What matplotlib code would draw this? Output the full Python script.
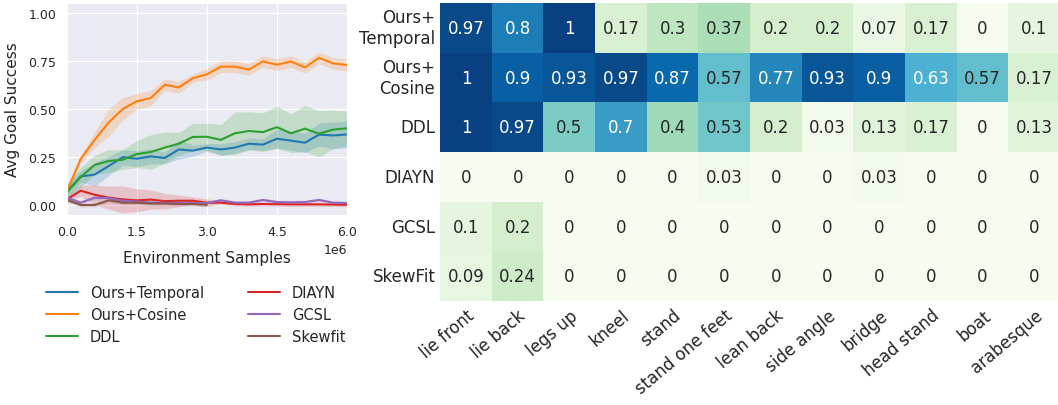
import numpy as np
import matplotlib
matplotlib.use("Agg")
import matplotlib.pyplot as plt
import seaborn as sns

# learning curves (x in env samples, every 0.3e6)
steps = np.arange(21) * 0.3e6
ours_temporal = [0.07, 0.15, 0.16, 0.204, 0.25, 0.242, 0.254, 0.246, 0.29, 0.284, 0.30,
                 0.29, 0.30, 0.32, 0.315, 0.346, 0.336, 0.325, 0.367, 0.363, 0.368]
ours_temporal_sd = [0.04, 0.03, 0.06, 0.05, 0.04, 0.04, 0.04, 0.03, 0.05, 0.03, 0.02,
                    0.03, 0.03, 0.03, 0.03, 0.05, 0.05, 0.05, 0.06, 0.07, 0.07]
ours_cosine = [0.07, 0.24, 0.34, 0.43, 0.50, 0.54, 0.557, 0.626, 0.612, 0.66, 0.68,
               0.72, 0.72, 0.705, 0.747, 0.73, 0.747, 0.716, 0.766, 0.737, 0.728]
ours_cosine_sd = [0.02, 0.02, 0.04, 0.07, 0.06, 0.04, 0.04, 0.03, 0.03, 0.02, 0.03,
                  0.03, 0.03, 0.03, 0.03, 0.03, 0.03, 0.03, 0.03, 0.03, 0.03]
ddl = [0.066, 0.147, 0.21, 0.23, 0.237, 0.266, 0.277, 0.30, 0.32, 0.355, 0.356,
       0.34, 0.374, 0.386, 0.38, 0.406, 0.374, 0.398, 0.372, 0.393, 0.40]
ddl_sd = [0.04, 0.05, 0.05, 0.06, 0.05, 0.07, 0.09, 0.08, 0.06, 0.07, 0.07,
          0.08, 0.11, 0.10, 0.10, 0.11, 0.10, 0.12, 0.12, 0.10, 0.09]
diayn = [0.03, 0.076, 0.055, 0.04, 0.031, 0.026, 0.03, 0.022, 0.024, 0.024, 0.014,
         0.014, 0.007, 0.005, 0.007, 0.006, 0.005, 0.005, 0.005, 0.004, 0.003]
diayn_sd = [0.01, 0.03, 0.05, 0.06, 0.07, 0.06, 0.05, 0.04, 0.03, 0.02, 0.02,
            0.01, 0.01, 0.01, 0.01, 0.01, 0.01, 0.01, 0.01, 0.01, 0.01]
gcsl = [0.04, 0.014, 0.04, 0.038, 0.024, 0.02, 0.014, 0.013, 0.012, 0.012, 0.012,
        0.026, 0.014, 0.014, 0.028, 0.017, 0.016, 0.017, 0.028, 0.014, 0.012]
gcsl_sd = [0.01] * 21
skewfit = [0.028, 0.002, 0.002, 0.026, 0.014, 0.014, 0.01, 0.01, 0.007, 0.007, 0.003]
skewfit_sd = [0.01] * 11

curves = [("Ours+Temporal", ours_temporal, ours_temporal_sd),
          ("Ours+Cosine", ours_cosine, ours_cosine_sd),
          ("DDL", ddl, ddl_sd),
          ("DIAYN", diayn, diayn_sd),
          ("GCSL", gcsl, gcsl_sd),
          ("Skewfit", skewfit, skewfit_sd)]

# heatmap
methods = ["Ours+\nTemporal", "Ours+\nCosine", "DDL", "DIAYN", "GCSL", "SkewFit"]
poses = ["lie front", "lie back", "legs up", "kneel", "stand", "stand one feet",
         "lean back", "side angle", "bridge", "head stand", "boat", "arabesque"]
success = [
    [0.97, 0.8, 1, 0.17, 0.3, 0.37, 0.2, 0.2, 0.07, 0.17, 0, 0.1],
    [1, 0.9, 0.93, 0.97, 0.87, 0.57, 0.77, 0.93, 0.9, 0.63, 0.57, 0.17],
    [1, 0.97, 0.5, 0.7, 0.4, 0.53, 0.2, 0.03, 0.13, 0.17, 0, 0.13],
    [0, 0, 0, 0, 0, 0.03, 0, 0, 0.03, 0, 0, 0],
    [0.1, 0.2, 0, 0, 0, 0, 0, 0, 0, 0, 0, 0],
    [0.09, 0.24, 0, 0, 0, 0, 0, 0, 0, 0, 0, 0],
]

sns.set_style("darkgrid")
plt.rcParams['font.family'] = ['DejaVu Sans']
txt = "#262626"

fig = plt.figure(figsize=(10.58, 4.06), dpi=100)

ax = fig.add_axes([0.063, 0.468, 0.265, 0.522])
colors = sns.color_palette("tab10")
for i, (name, mean, sd) in enumerate(curves):
    mean = np.array(mean)
    sd = np.array(sd)
    x = steps[:len(mean)]
    ax.plot(x, mean, color=colors[i], lw=1.5, label=name)
    ax.fill_between(x, mean - sd, mean + sd, color=colors[i], alpha=0.2, lw=0)
ax.set_xlim(0, 6e6)
ax.set_ylim(-0.05, 1.05)
ax.set_xticks([0, 1.5e6, 3e6, 4.5e6, 6e6])
ax.set_yticks([0, 0.25, 0.5, 0.75, 1.0])
ax.tick_params(labelsize=9, colors=txt, pad=4)
ax.xaxis.get_offset_text().set_fontsize(9)
ax.xaxis.get_offset_text().set_color(txt)
ax.set_xlabel("Environment Samples", fontsize=11, color=txt, labelpad=8)
ax.set_ylabel("Avg Goal Success", fontsize=11, color=txt, labelpad=6)
leg = fig.legend(*ax.get_legend_handles_labels(), loc="center", ncol=2,
                 bbox_to_anchor=(0.185, 0.223), frameon=False, fontsize=10.5,
                 columnspacing=3.0, handlelength=2.2, labelspacing=0.5)
for t in leg.get_texts():
    t.set_color(txt)

hax = fig.add_axes([0.416, 0.256, 0.586, 0.734])
sns.heatmap(np.array(success), ax=hax, cmap="GnBu", vmin=0, vmax=1, annot=True,
            fmt="g", cbar=False, annot_kws={"fontsize": 12},
            xticklabels=poses, yticklabels=methods)
hax.tick_params(length=0, labelsize=12, colors=txt)
plt.setp(hax.get_yticklabels(), rotation=0, ha="right", multialignment="right")
plt.setp(hax.get_xticklabels(), rotation=40, ha="right", rotation_mode="anchor")

fig.savefig("out.png", dpi=100)
